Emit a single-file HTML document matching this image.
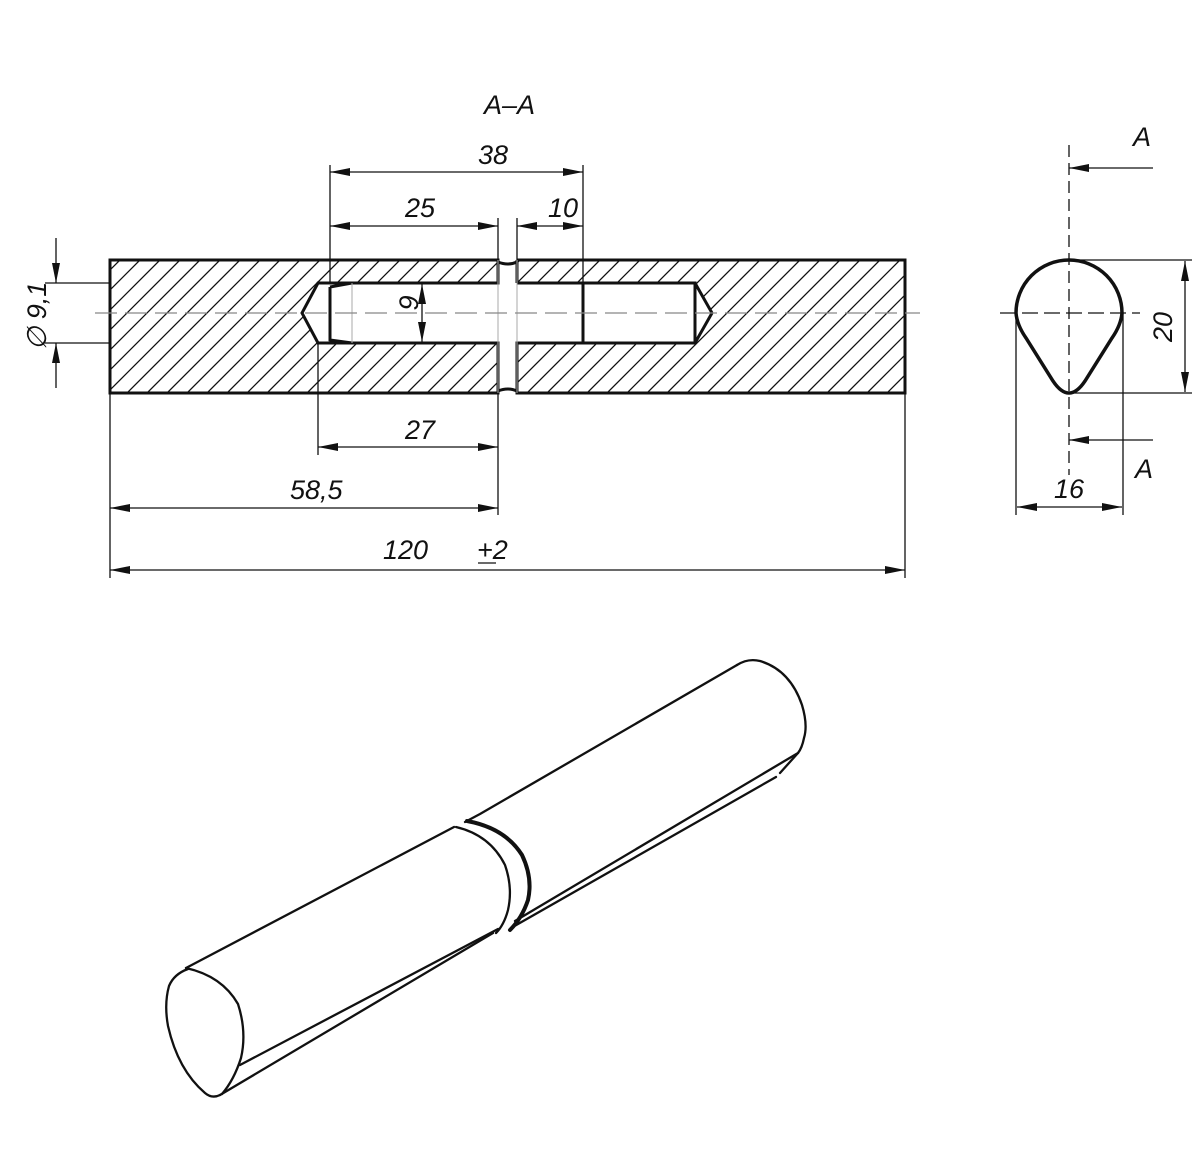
<!DOCTYPE html>
<html><head><meta charset="utf-8"><style>
html,body{margin:0;padding:0;background:#fff;overflow:hidden}
svg{display:block}
text{font-family:"Liberation Sans",sans-serif;font-style:italic;font-size:27px;fill:#111}
</style></head><body>
<svg width="1200" height="1154" viewBox="0 0 1200 1154" xmlns="http://www.w3.org/2000/svg">
<defs>
<marker id="ar" viewBox="0 0 20 8" refX="20" refY="4" markerWidth="20" markerHeight="8" markerUnits="userSpaceOnUse" orient="auto-start-reverse">
<path d="M0,0 L20,4 L0,8 Z" fill="#111"/></marker>
<clipPath id="hc">
<path clip-rule="evenodd" d="M110,260 H498 V393 H110 Z M517,260 H905 V393 H517 Z M302,313 L318,283 H498 V343 H318 Z M517,283 H695 L712,313 L695,343 H517 Z"/>
</clipPath>
</defs>
<g stroke="#111" fill="none">
<g clip-path="url(#hc)" stroke-width="1.3">
<path d="M-40,400 l200,-200 M-20,400 l200,-200 M0,400 l200,-200 M20,400 l200,-200 M40,400 l200,-200 M60,400 l200,-200 M80,400 l200,-200 M100,400 l200,-200 M120,400 l200,-200 M140,400 l200,-200 M160,400 l200,-200 M180,400 l200,-200 M200,400 l200,-200 M220,400 l200,-200 M240,400 l200,-200 M260,400 l200,-200 M280,400 l200,-200 M300,400 l200,-200 M320,400 l200,-200 M340,400 l200,-200 M360,400 l200,-200 M380,400 l200,-200 M400,400 l200,-200 M420,400 l200,-200 M440,400 l200,-200 M460,400 l200,-200 M480,400 l200,-200 M500,400 l200,-200 M520,400 l200,-200 M540,400 l200,-200 M560,400 l200,-200 M580,400 l200,-200 M600,400 l200,-200 M620,400 l200,-200 M640,400 l200,-200 M660,400 l200,-200 M680,400 l200,-200 M700,400 l200,-200 M720,400 l200,-200 M740,400 l200,-200 M760,400 l200,-200 M780,400 l200,-200 M800,400 l200,-200 M820,400 l200,-200 M840,400 l200,-200 M860,400 l200,-200 M880,400 l200,-200 M900,400 l200,-200"/>
</g>
<g stroke-width="3">
<path d="M498,260 H110 V393 H498 V343 H318 L302,313 L318,283 H498 Z"/>
<path d="M517,260 H905 V393 H517 V343 H695 L712,313 L695,343 M695,283 L712,313 M517,283 H695 V343 M517,283 V260"/>
<path d="M498,262 Q508,266 517,262 M498,391 Q508,387 517,391"/>
<path d="M583,283 V343 M330,287 L352,283 M330,287 V340 L352,343"/>
</g>
<path d="M498,260 V393 M517,260 V393" stroke-width="1" stroke="#aaa"/>
<path d="M352,283 V343" stroke-width="1" stroke="#aaa"/>
<path d="M95,313 H920" stroke="#888" stroke-width="1.3" stroke-dasharray="22,8"/>
<g stroke-width="1.3">
<path d="M330,165 V283 M583,165 V283 M498,218 V260 M517,218 V260"/>
<path d="M330,172 H583" marker-start="url(#ar)" marker-end="url(#ar)"/>
<path d="M330,226 H498" marker-start="url(#ar)" marker-end="url(#ar)"/>
<path d="M517,226 H583" marker-start="url(#ar)" marker-end="url(#ar)"/>
<path d="M422,284 V342" marker-start="url(#ar)" marker-end="url(#ar)"/>
<path d="M45,283 H110 M45,343 H110"/>
<path d="M56,238 V283" marker-end="url(#ar)"/>
<path d="M56,388 V343" marker-end="url(#ar)"/>
<path d="M318,343 V455 M498,393 V515 M110,393 V578 M905,393 V578"/>
<path d="M318,447 H498" marker-start="url(#ar)" marker-end="url(#ar)"/>
<path d="M110,508 H498" marker-start="url(#ar)" marker-end="url(#ar)"/>
<path d="M110,570 H905" marker-start="url(#ar)" marker-end="url(#ar)"/>
<path d="M478,563 H496"/>
</g>
<path d="M1069,145 V475" stroke-width="1.3" stroke-dasharray="12,6"/>
<path d="M1000,313 H1140" stroke-width="1.3" stroke-dasharray="16,6"/>
<path d="M1016,313 A53,53 0 0 1 1122,313 Q1121,325 1112,338 L1085,381 Q1077,393 1069,393 Q1061,393 1053,381 L1026,338 Q1017,325 1016,313 Z" stroke-width="3.5"/>
<g stroke-width="1.3">
<path d="M1153,168 H1069" marker-end="url(#ar)"/>
<path d="M1153,440 H1069" marker-end="url(#ar)"/>
<path d="M1069,260 H1192 M1069,393 H1192"/>
<path d="M1185,261 V392" marker-start="url(#ar)" marker-end="url(#ar)"/>
<path d="M1016,313 V515 M1123,313 V515"/>
<path d="M1017,507 H1122" marker-start="url(#ar)" marker-end="url(#ar)"/>
</g>
<!-- 3D -->
<g stroke-width="2.3" stroke-linejoin="round" stroke-linecap="round">
<path d="M186,968 L454,827"/>
<path d="M465,822 L480,814 L737,665"/>
<path d="M737,665 Q748,658 760,661 Q790,670 802,705 Q808,725 804,738 Q802,748 798,753 L780,773"/>
<path d="M188,969 Q174,974 169,986 Q164,1004 168,1026 Q178,1070 205,1093 Q212,1099 220,1095"/>
<path d="M186,968 Q222,976 238,1004 Q247,1032 241,1058 Q234,1080 222,1094"/>
<path d="M240,1065 L498,929 M515,921 L798,753"/>
<path d="M220,1095 L493,933 M511,928 L776,777"/>
<path d="M456,827 Q490,835 505,865 Q513,888 508,910 Q504,925 496,933"/>
<path d="M467,821 Q505,828 522,855 Q533,878 528,900 Q522,918 510,930" stroke-width="4"/>
</g>
</g>
<text x="484" y="114">A–A</text>
<text x="478" y="164">38</text>
<text x="405" y="217">25</text>
<text x="548" y="217">10</text>
<text transform="translate(418,303) rotate(-90)" text-anchor="middle">9</text>
<text transform="translate(46,316) rotate(-90)" text-anchor="middle">∅ 9,1</text>
<text x="405" y="439">27</text>
<text x="290" y="499">58,5</text>
<text x="383" y="559">120</text>
<text x="477" y="559">+2</text>
<text x="1133" y="146">A</text>
<text x="1135" y="478">A</text>
<text transform="translate(1172,327) rotate(-90)" text-anchor="middle">20</text>
<text x="1054" y="498">16</text>
</svg>
</body></html>
